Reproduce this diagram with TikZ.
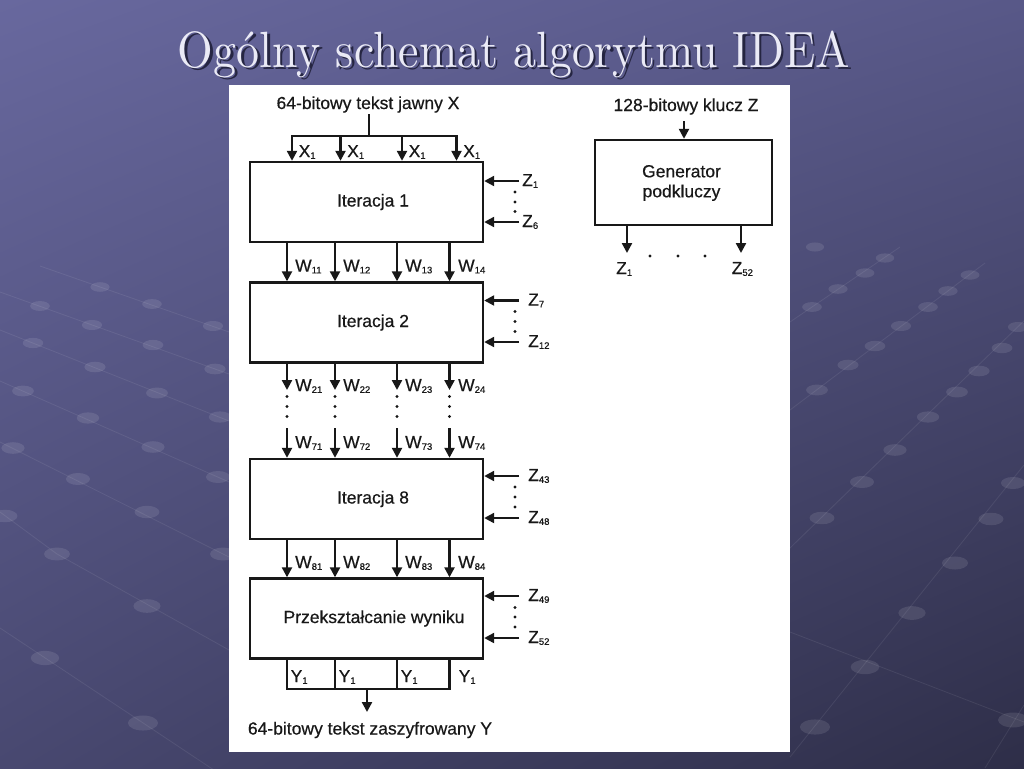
\documentclass[tikz,border=0pt]{standalone}
\usepackage{fontspec}
\usepackage{graphicx}
\setsansfont{Liberation Sans}
\newfontfamily\dfont{Liberation Sans}[FakeBold=0.5]
\usetikzlibrary{arrows.meta,calc,shadings}
\definecolor{ink}{RGB}{24,24,24}
\definecolor{bgUL}{RGB}{104,104,158}
\definecolor{bgUR}{RGB}{88,88,136}
\definecolor{bgLL}{RGB}{72,72,112}
\definecolor{bgLR}{RGB}{46,46,72}
\definecolor{titlec}{RGB}{234,234,246}
\definecolor{shadowc}{RGB}{32,32,58}
\newcommand{\sbx}[1]{\raisebox{-1.8pt}{\fontsize{9.5}{9.5}\selectfont #1}}
\tikzset{
  box/.style={draw=ink, line width=2.4pt, minimum width=233pt, minimum height=80pt, inner sep=0pt, fill=white},
  arr/.style={draw=ink, line width=2.3pt, -{Triangle[length=10pt,width=10pt]}},
  ln/.style={draw=ink, line width=2.3pt, line cap=rect},
  txt/.style={font=\dfont\fontsize{17.5}{20}\selectfont, text=ink, inner sep=0pt},
  lbl/.style={txt, anchor=west},
  bead/.style={fill=white, fill opacity=0.10},
  beadline/.style={draw=white, draw opacity=0.08, line width=0.8pt},
  ttl/.style={font=\rmfamily, inner sep=0pt}
}
\begin{document}
\begin{tikzpicture}[x=1pt,y=-1pt]
\useasboundingbox (0,0) rectangle (1024,768);
% background
\shade[upper left=bgUL, upper right=bgUR, lower left=bgLL, lower right=bgLR] (0,0) rectangle (1024,768);
% decorative bead lines
\draw[beadline] (40,266) -- (229,332);
\draw[beadline] (0,292) -- (229,374);
\draw[beadline] (0,330) -- (229,421);
\draw[beadline] (0,381) -- (229,482);
\draw[beadline] (0,442) -- (229,557);
\draw[beadline] (0,512) -- (57,554) -- (229,650);
\draw[beadline] (0,628) -- (229,780);
\draw[beadline] (985,263) -- (790,410);
\draw[beadline] (1030,315) -- (790,548);
\draw[beadline] (1024,465) -- (790,757);
\draw[beadline] (900,247) -- (790,322);
\draw[beadline] (1024,705) -- (985,768);
\draw[beadline] (790,632) -- (1024,722);
\foreach \x/\y in {100/287,152/304,213/326,40/306,92/325,153/345,215/369,
  33/343,95/367,157/393,220/417,23/391,88/418,153/447,218/477,
  13/448,78/479,147/512,223/554,5/516,57/554,147/606,45/658,143/723,
  970/275,948/291,928/307,901/326,875/346,848/365,817/390,
  1018/327,1002/348,979/371,957/392,928/417,895/450,862/482,822/518,
  1013/483,991/519,955/563,912/613,865/667,815/727,
  885/258,865/273,838/289,812/307,815/247,1013/720}{
  \pgfmathsetmacro\rx{6+0.0125*\y}
  \fill[bead] (\x,\y) ellipse [x radius=\rx, y radius=0.5*\rx];
}
% title
\node[ttl, text=shadowc, opacity=0.9] (tshadow) at (516.5,56.5) {\resizebox*{672pt}{47pt}{Ogólny schemat algorytmu IDEA}};
\node[ttl, text=titlec] (title) at (514,54) {\resizebox*{672pt}{47pt}{Ogólny schemat algorytmu IDEA}};
% white panel
\fill[white] (229,85) rectangle (790,752);

% ---------- main chain ----------
\node[txt] (in) at (368,104.5) {64-bitowy tekst jawny X};
\coordinate (insrc) at (369,115);
\coordinate (split) at (369,136);
\coordinate (xa) at (292,136);
\coordinate (xb) at (340.5,136);
\coordinate (xc) at (402,136);
\coordinate (xd) at (456.5,136);
\coordinate (c1) at (287,0);
\coordinate (c2) at (335,0);
\coordinate (c3) at (397,0);
\coordinate (c4) at (449.5,0);

\node[box] (it1) at (366.5,202) {};
\node[txt] (it1t) at (373,202) {Iteracja 1};
\node[box] (it2) at (366.5,322.5) {};
\node[txt] (it2t) at (373,322.5) {Iteracja 2};
\node[box] (it8) at (366.5,499) {};
\node[txt] (it8t) at (373,499) {Iteracja 8};
\node[box] (prz) at (366.5,618.5) {};
\node[txt] (przt) at (374,618.5) {Przekształcanie wyniku};

\draw[ln] (insrc) -- (split);
\draw[ln] (xa) -- (xd);
\foreach \c in {xa,xb,xc,xd} \draw[arr] (\c) -- (\c |- it1.north);
\node[lbl] (lx1) at (298.5,152) {X\sbx{1}};
\node[lbl] (lx2) at (347,152) {X\sbx{1}};
\node[lbl] (lx3) at (408.5,152) {X\sbx{1}};
\node[lbl] (lx4) at (463,152) {X\sbx{1}};

% iteration 1 -> 2
\foreach \c in {c1,c2,c3,c4} \draw[arr] (it1.south -| \c) -- (it2.north -| \c);
\node[lbl] (w11) at (295,266.5) {W\sbx{11}};
\node[lbl] (w12) at (343,266.5) {W\sbx{12}};
\node[lbl] (w13) at (405,266.5) {W\sbx{13}};
\node[lbl] (w14) at (458,266.5) {W\sbx{14}};

% iteration 2 -> ... -> 8
\foreach \c in {c1,c2,c3,c4} {
  \coordinate (e2\c) at ($(\c)+(0,390)$);
  \coordinate (s7\c) at ($(\c)+(0,428)$);
  \draw[arr] (it2.south -| \c) -- (e2\c);
  \draw[arr] (s7\c) -- (it8.north -| \c);
  \foreach \yy in {396.5,406.5,416.5} \fill[ink] ($(\c)+(0,\yy)$) circle [radius=1.7];
}
\node[lbl] (w21) at (295,386) {W\sbx{21}};
\node[lbl] (w22) at (343,386) {W\sbx{22}};
\node[lbl] (w23) at (405,386) {W\sbx{23}};
\node[lbl] (w24) at (458,386) {W\sbx{24}};
\node[lbl] (w71) at (295,443) {W\sbx{71}};
\node[lbl] (w72) at (343,443) {W\sbx{72}};
\node[lbl] (w73) at (405,443) {W\sbx{73}};
\node[lbl] (w74) at (458,443) {W\sbx{74}};

% iteration 8 -> output transform
\foreach \c in {c1,c2,c3,c4} \draw[arr] (it8.south -| \c) -- (prz.north -| \c);
\node[lbl] (w81) at (295,563) {W\sbx{81}};
\node[lbl] (w82) at (343,563) {W\sbx{82}};
\node[lbl] (w83) at (405,563) {W\sbx{83}};
\node[lbl] (w84) at (458,563) {W\sbx{84}};

% outputs
\foreach \c in {c1,c2,c3,c4} {
  \coordinate (y\c) at ($(\c)+(0,689)$);
  \draw[ln] (prz.south -| \c) -- (y\c);
}
\draw[ln] (yc1) -- (yc4);
\coordinate (yj) at (367,689);
\coordinate (yend) at (367,712);
\draw[arr] (yj) -- (yend);
\node[lbl] (y1) at (290.5,677) {Y\sbx{1}};
\node[lbl] (y2) at (338.5,677) {Y\sbx{1}};
\node[lbl] (y3) at (400.5,677) {Y\sbx{1}};
\node[lbl] (y4) at (458.5,677) {Y\sbx{1}};
\node[txt] (out) at (370,730) {64-bitowy tekst zaszyfrowany Y};

% subkey inputs
\coordinate (za1) at (519,181);
\coordinate (zb1) at (519,222);
\coordinate (za2) at (519,300.5);
\coordinate (zb2) at (519,342);
\coordinate (za8) at (519,476);
\coordinate (zb8) at (519,518);
\coordinate (zap) at (519,596);
\coordinate (zbp) at (519,638);
\draw[arr] (za1) -- (za1 -| it1.east);
\draw[arr] (zb1) -- (zb1 -| it1.east);
\draw[arr] (za2) -- (za2 -| it2.east);
\draw[arr] (zb2) -- (zb2 -| it2.east);
\draw[arr] (za8) -- (za8 -| it8.east);
\draw[arr] (zb8) -- (zb8 -| it8.east);
\draw[arr] (zap) -- (zap -| prz.east);
\draw[arr] (zbp) -- (zbp -| prz.east);
\foreach \yy in {192,202,211.5, 311.5,321.5,331.5, 487,497,507, 607.5,617,627}
  \fill[ink] (515,\yy) circle [radius=1.7];
\node[lbl] (lz1) at (522,181) {Z\sbx{1}};
\node[lbl] (lz6) at (522,222) {Z\sbx{6}};
\node[lbl] (lz7) at (528,300.5) {Z\sbx{7}};
\node[lbl] (lz12) at (528,342) {Z\sbx{12}};
\node[lbl] (lz43) at (528,476) {Z\sbx{43}};
\node[lbl] (lz48) at (528,518) {Z\sbx{48}};
\node[lbl] (lz49) at (528,596) {Z\sbx{49}};
\node[lbl] (lz52) at (528,638) {Z\sbx{52}};

% ---------- key schedule ----------
\node[txt] (key) at (686,106.5) {128-bitowy klucz Z};
\node[box, minimum width=177pt, minimum height=85pt] (gen) at (683.5,182.5) {};
\node[txt, align=center] (gent) at (681.5,183) {Generator\\podkluczy};
\coordinate (keyarr) at (684,121);
\draw[arr] (keyarr) -- (keyarr |- gen.north);
\coordinate (g1) at (627,253);
\coordinate (g2) at (741,253);
\draw[arr] (gen.south -| g1) -- (g1);
\draw[arr] (gen.south -| g2) -- (g2);
\foreach \xx in {650,678,705} \fill[ink] (\xx,256) circle [radius=1.7];
\node[lbl] (gz1) at (616,269) {Z\sbx{1}};
\node[lbl] (gz52) at (731.5,269) {Z\sbx{52}};
\end{tikzpicture}
\end{document}
